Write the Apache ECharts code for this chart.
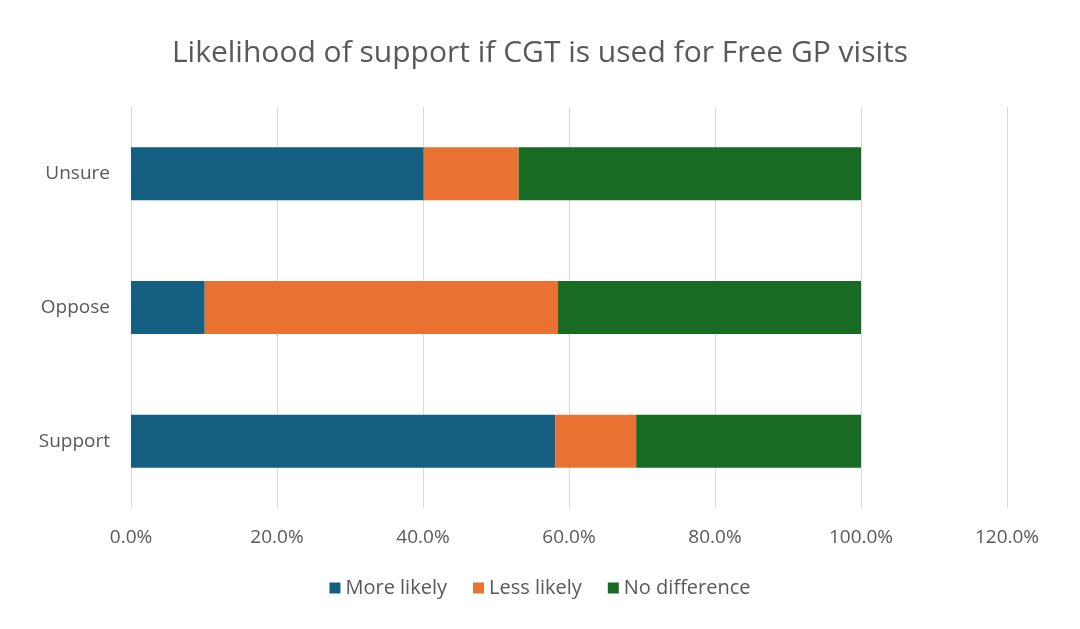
<!DOCTYPE html>
<html><head><meta charset="utf-8">
<script src="https://cdn.jsdelivr.net/npm/echarts@6/dist/echarts.min.js"></script>
<style>html,body{margin:0;padding:0;background:#fff}#c{width:1080px;height:629px}</style>
</head><body><div id="c"></div>
<script>
const categories = ['Support', 'Oppose', 'Unsure'];
const moreLikely = [58.1, 10.1, 40.1];
const lessLikely = [11.1, 48.4, 13.0];
const noDifference = [30.8, 41.5, 46.9];
const seriesNames = ['More likely', 'Less likely', 'No difference'];
const colors = ['#156082', '#E97132', '#196B24'];
const font = '"Open Sans", Roboto, sans-serif';
const chart = echarts.init(document.getElementById('c'));
const mk = (name, data, i) => ({
  name, type: 'bar', stack: 'a', data, barWidth: 53,
  itemStyle: { color: colors[i] }
});
chart.setOption({
  animation: false,
  title: { text: 'Likelihood of support if CGT is used for Free GP visits', left: 'center', top: 33,
    textStyle: { color: '#595959', fontSize: 30, fontWeight: 'normal', fontFamily: font } },
  legend: { bottom: 26, left: 'center', itemWidth: 11, itemHeight: 11, itemGap: 26, icon: 'rect',
    textStyle: { color: '#595959', fontSize: 20, fontFamily: font } },
  grid: { left: 131, right: 73, top: 107, height: 401 },
  xAxis: { type: 'value', min: 0, max: 120, interval: 20,
    axisLabel: { formatter: v => v.toFixed(1) + '%', color: '#595959', fontSize: 19, fontFamily: font, margin: 20 },
    splitLine: { lineStyle: { color: '#d9d9d9' } }, axisLine: { show: false }, axisTick: { show: false } },
  yAxis: { type: 'category', data: categories,
    axisLabel: { color: '#595959', fontSize: 19, fontFamily: font, margin: 21 },
    axisLine: { lineStyle: { color: '#d9d9d9' } }, axisTick: { show: false } },
  series: [mk(seriesNames[0], moreLikely, 0), mk(seriesNames[1], lessLikely, 1), mk(seriesNames[2], noDifference, 2)]
});
</script></body></html>
